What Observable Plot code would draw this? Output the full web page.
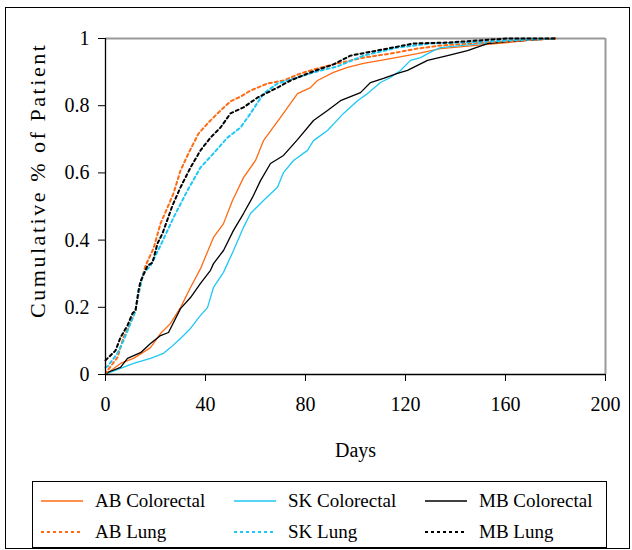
<!DOCTYPE html>
<html><head><meta charset="utf-8">
<script src="https://cdn.jsdelivr.net/npm/d3@7"></script>
<script src="https://cdn.jsdelivr.net/npm/@observablehq/plot@0.6"></script>
<style>
body{margin:0;background:#fff;font-family:"Liberation Serif","Times New Roman",Times,"DejaVu Serif",serif;}
#wrap{position:relative;width:632px;height:550px;overflow:hidden;}
#frame{position:absolute;left:5px;top:7px;width:625px;height:542px;border:1px solid #000;box-sizing:border-box;}
#chart{position:absolute;left:0;top:0;}
#legend{position:absolute;left:32px;top:481px;width:575px;height:67px;border:1px solid #000;box-sizing:border-box;}
.item{position:absolute;display:flex;align-items:center;font-size:19px;line-height:21px;white-space:nowrap;color:#000;}
.item svg{margin-right:12px;}
svg text{font-family:"Liberation Serif","Times New Roman",Times,"DejaVu Serif",serif;}
</style></head>
<body>
<div id="wrap"><div id="frame"></div><div id="chart"></div><div id="legend"></div></div>
<script>
const seriesNames = ["AB Colorectal","SK Colorectal","MB Colorectal","AB Lung","SK Lung","MB Lung"];
const xTicks = [0,40,80,120,160,200];
const xTickLabels = ["0","40","80","120","160","200"];
const yTicks = [0,0.2,0.4,0.6,0.8,1];
const yTickLabels = ["0","0.2","0.4","0.6","0.8","1"];

const abColDays = [0,6,11.2,18,22,26,30,34,38,43.2,47.2,50.8,55.2,60,63.2,70,76.8,82,84.8,91.2,96.8,103.2,114,124.8,134,147.2,160.8,171,180];
const abColPct  = [0,0.033,0.048,0.080,0.122,0.152,0.199,0.259,0.315,0.408,0.449,0.518,0.586,0.637,0.696,0.765,0.836,0.854,0.875,0.899,0.914,0.926,0.940,0.955,0.970,0.979,0.988,0.997,1];

const skColDays = [0,0.8,6,11.2,18,23.2,26,30,34,38,40.8,43.2,47.2,51.2,55.2,58,63.2,68.8,71.2,75.2,80.8,83.2,88.8,95.2,100.8,104.8,110,114,118,122,126,131.2,134,154,167.2,180];
const skColPct  = [0,0.003,0.018,0.033,0.048,0.063,0.080,0.107,0.137,0.176,0.199,0.259,0.304,0.369,0.438,0.479,0.518,0.557,0.601,0.637,0.667,0.696,0.726,0.777,0.815,0.836,0.869,0.884,0.905,0.935,0.943,0.964,0.973,0.988,0.997,1];

const mbColDays = [0,0.8,6,8.8,14,18,22,25.2,30,34,38,42,43.2,47.2,51.2,55.2,58.8,62,66,71.2,76.8,83.2,88.8,94,102,106,111.2,116.8,120.8,128.8,136.8,144.8,152.8,160.8,180];
const mbColPct  = [0,0.006,0.021,0.048,0.065,0.092,0.116,0.125,0.196,0.229,0.271,0.310,0.330,0.369,0.429,0.479,0.527,0.577,0.628,0.652,0.699,0.756,0.786,0.815,0.839,0.869,0.881,0.896,0.905,0.935,0.949,0.964,0.985,0.991,1];

const abLungDays = [0,0.8,4.8,7.2,9.2,12,14,16,19.2,22,24.8,27.2,30,32.8,34.8,37.2,41.2,44.8,50,54,58,64.8,71.2,78,84.8,91.2,103.2,114,124.8,134,150,166,180];
const abLungPct  = [0,0.012,0.051,0.110,0.140,0.190,0.271,0.324,0.375,0.449,0.497,0.539,0.607,0.652,0.682,0.717,0.750,0.777,0.813,0.827,0.845,0.866,0.875,0.896,0.911,0.923,0.943,0.955,0.970,0.979,0.988,0.994,1];

const skLungDays = [0,0.8,4.8,7.2,10,12,13.2,15.2,18,22,27.2,32.8,38,43.2,48.8,54,58,63.2,68.8,76.8,83.2,92.8,103.2,116.8,130,143.2,170,180];
const skLungPct  = [0.021,0.024,0.063,0.101,0.152,0.190,0.241,0.301,0.324,0.384,0.467,0.548,0.616,0.658,0.705,0.735,0.777,0.836,0.866,0.884,0.899,0.917,0.949,0.973,0.985,0.988,0.997,1];

const mbLungDays = [0,0.8,4,6,8.8,10.8,12,13.2,14,16.8,18.8,20.8,22.8,26.8,30,34,38,42,46,50,55.2,60.8,68.8,74,82,91.2,98,112.8,123.2,136.8,160.8,180];
const mbLungPct  = [0.042,0.048,0.071,0.110,0.146,0.182,0.190,0.250,0.277,0.324,0.333,0.390,0.420,0.503,0.557,0.616,0.667,0.705,0.735,0.777,0.795,0.824,0.854,0.875,0.899,0.923,0.949,0.970,0.985,0.988,1,1];

const seriesDays = [abColDays, skColDays, mbColDays, abLungDays, skLungDays, mbLungDays];
const seriesPct  = [abColPct, skColPct, mbColPct, abLungPct, skLungPct, mbLungPct];

// styles
const seriesColor = ["#ff6a13","#1ec8f5","#000000","#ff6a13","#1ec8f5","#000000"];
const seriesDash  = [null,null,null,"3,3","3,3","3,3"];
const seriesWidth = [1.3,1.3,1.3,2,2,2];
const FONT = '"Liberation Serif","Times New Roman",Times,"DejaVu Serif",serif';

const tables = seriesNames.map((name,i) => seriesDays[i].map((d,j) => ({series:name, day:d, pct:seriesPct[i][j]})));

const lineMarks = tables.map((t,i) => Plot.line(t, {x:"day", y:"pct", stroke:seriesColor[i], strokeWidth:seriesWidth[i], strokeDasharray:seriesDash[i], strokeLinejoin:"round"}));

const chart = Plot.plot({
  width: 632, height: 470,
  marginLeft: 105, marginRight: 27, marginTop: 38, marginBottom: 96,
  style: {fontFamily: FONT, fontSize: "20px", color: "#000", background: "transparent", overflow: "visible"},
  x: {domain: [0,200]},
  y: {domain: [0,1]},
  marks: [
    Plot.ruleY([1], {stroke:"#9a9a9a", strokeWidth:2}),
    Plot.ruleX([200], {stroke:"#9a9a9a", strokeWidth:2}),
    ...lineMarks,
    Plot.ruleX([0], {stroke:"#000", strokeWidth:1.3}),
    Plot.ruleY([0], {stroke:"#000", strokeWidth:1.3}),
    Plot.axisX({ticks: xTicks, tickFormat: (d,i) => xTickLabels[i], tickSize: 7, tickPadding: 15, label: null, fontSize: 20}),
    Plot.axisY({ticks: yTicks, tickFormat: (d,i) => yTickLabels[i], tickSize: 7, tickPadding: 9, label: null, fontSize: 20}),
    Plot.text(["Days"], {frameAnchor: "bottom", dy: 76, lineAnchor: "middle", fontSize: 20})
  ]
});
document.getElementById("chart").appendChild(chart);

// rotated y-axis title, clipped at the top as in the original
const svg = d3.select(chart);
svg.append("defs").append("clipPath").attr("id","ylabclip").attr("clipPathUnits","userSpaceOnUse")
  .append("rect").attr("x",0).attr("y",43).attr("width",100).attr("height",400);
svg.append("g").attr("clip-path","url(#ylabclip)")
  .append("text")
  .attr("transform","translate(37,318) rotate(-90)")
  .attr("text-anchor","start").attr("dy","0.35em")
  .attr("font-size",22).attr("fill","#000").attr("font-family",FONT)
  .attr("textLength",284).attr("lengthAdjust","spacing")
  .text("Cumulative % of Patients");

// legend
const legendPos = [[8,19],[201,19],[392,19],[8,50],[201,50],[392,50]];
const legend = document.getElementById("legend");
seriesNames.forEach((name,i) => {
  const div = document.createElement("div");
  div.className = "item";
  div.style.left = legendPos[i][0] + "px";
  div.style.top = (legendPos[i][1] - 11) + "px";
  div.innerHTML = `<svg width="42" height="10"><line x1="0" x2="42" y1="5" y2="5" stroke="${seriesColor[i]}" stroke-width="${seriesWidth[i]}" ${seriesDash[i] ? `stroke-dasharray="${seriesDash[i]}"` : ""}/></svg><span>${name}</span>`;
  legend.appendChild(div);
});
</script>
</body></html>
